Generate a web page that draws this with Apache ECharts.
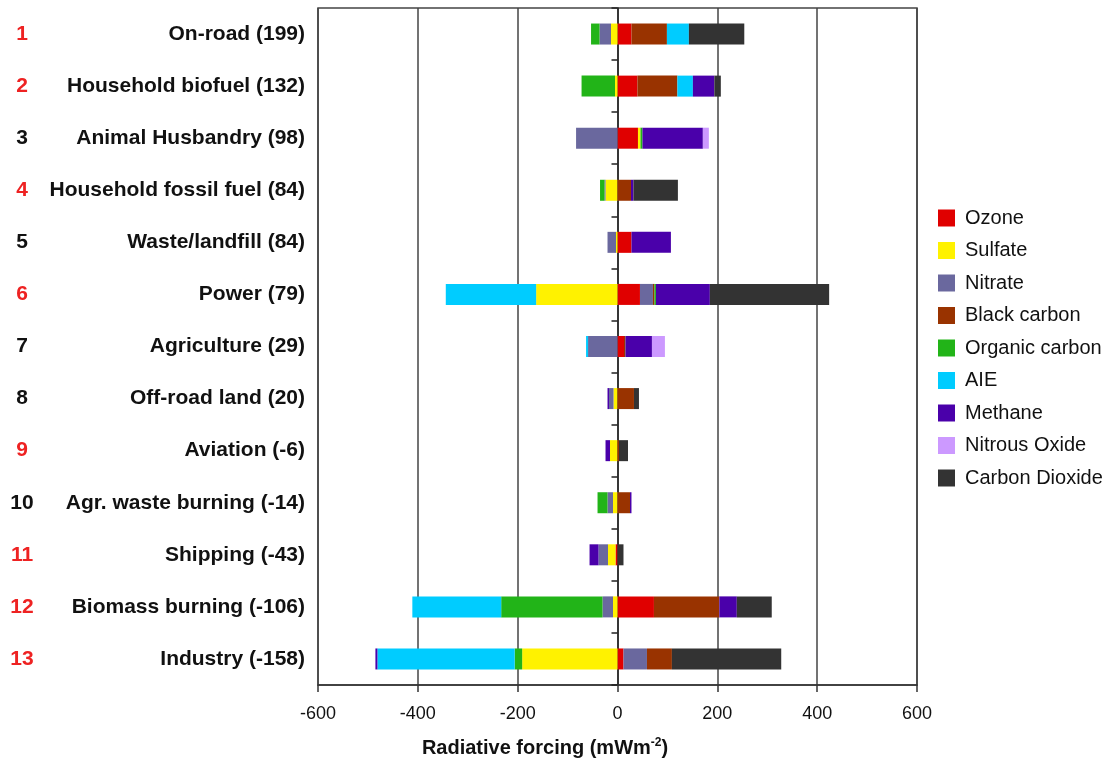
<!DOCTYPE html>
<html>
<head>
<meta charset="utf-8">
<script src="https://cdn.jsdelivr.net/npm/echarts@6/dist/echarts.min.js"></script>
<style>
html,body{margin:0;padding:0;background:#fff;}
#c{width:1113px;height:765px;}
</style>
</head>
<body>
<div id="c"></div>
<script>
// ---- data ----
var sectors = ['On-road','Household biofuel','Animal Husbandry','Household fossil fuel','Waste/landfill','Power','Agriculture','Off-road land','Aviation','Agr. waste burning','Shipping','Biomass burning','Industry'];
var netForcing = [199,132,98,84,84,79,29,20,-6,-14,-43,-106,-158];
var ranks = ['1','2','3','4','5','6','7','8','9','10','11','12','13'];
var rankRed = [true,true,false,true,false,true,false,false,true,false,true,true,true];

var ozone      = [28, 40, 41, 0, 28, 45, 13, 0, 0, 0, -4, 73, 12];
var sulfate    = [-13, -5, 5, -24, -3, -163, 0, -8, -15, -9, -15, -9, -191];
var nitrate    = [-23, 0, -83, -2, -17, 26, -59, -9, 0, -11, -19, -21, 47];
var blackC     = [71, 80, 0, 27, 0, 3, 3, 33, 3, 25, 0, 131, 50];
var organicC   = [-17, -67, 4, -9, 0, 3, 0, 0, 0, -20, 0, -203, -15];
var aie        = [44, 31, 0, 0, 0, -181, -4, 0, 0, 0, 0, -178, -275];
var methane    = [0, 43, 121, 5, 79, 108, 53, -3, -9, 3, -18, 35, -4];
var n2o        = [0, 0, 12, 0, 0, 0, 26, 0, 0, 0, 0, 0, 0];
var co2        = [111, 13, 0, 89, 0, 239, 0, 10, 18, 0, 12, 70, 219];

var xTicks = {min: -600, max: 600, interval: 200};

var seriesDefs = [
  ['Ozone', ozone, '#e00000'],
  ['Sulfate', sulfate, '#fff200'],
  ['Nitrate', nitrate, '#6a689e'],
  ['Black carbon', blackC, '#993300'],
  ['Organic carbon', organicC, '#22b418'],
  ['AIE', aie, '#00ccff'],
  ['Methane', methane, '#4a00aa'],
  ['Nitrous Oxide', n2o, '#cc99ff'],
  ['Carbon Dioxide', co2, '#333333']
];

var categories = sectors.map(function(s, i){ return s + ' (' + netForcing[i] + ')'; });

var chart = echarts.init(document.getElementById('c'), null, {renderer: 'canvas'});
var font = 'Liberation Sans, Arial, Helvetica, sans-serif';

var option = {
  backgroundColor: '#fff',
  animation: false,
  grid: {left: 318, right: 196, top: 8, bottom: 80, show: true, borderColor: '#444', borderWidth: 1.5, backgroundColor: 'transparent'},
  legend: {
    orient: 'vertical', left: 938, top: 208, padding: 0,
    itemWidth: 17, itemHeight: 17, itemGap: 12.5,
    icon: 'rect',
    textStyle: {fontFamily: font, fontSize: 20, color: '#111', lineHeight: 20, padding: [0,0,0,5]},
    data: seriesDefs.map(function(d){ return d[0]; })
  },
  xAxis: {
    type: 'value', min: xTicks.min, max: xTicks.max, interval: xTicks.interval,
    axisLine: {show: true, onZero: false, lineStyle: {color: '#333', width: 1.5}},
    axisTick: {show: true, length: 7, lineStyle: {color: '#333', width: 1.5}},
    splitLine: {show: true, lineStyle: {color: '#444', width: 1.5}},
    axisLabel: {fontFamily: font, fontSize: 18, color: '#111', margin: 20},
    name: '{a|Radiative forcing (mWm}{s|-2}{a|)}',
    nameLocation: 'middle', nameGap: 52,
    nameTextStyle: {
      padding: [0, 145, 0, 0],
      rich: {
        a: {fontFamily: font, fontSize: 20, fontWeight: 'bold', color: '#111', lineHeight: 22},
        s: {fontFamily: font, fontSize: 12, fontWeight: 'bold', color: '#111', verticalAlign: 'top', lineHeight: 22, padding: [0,0,8,0]}
      }
    }
  },
  yAxis: [
    {
      type: 'category', inverse: true, data: categories, position: 'left',
      axisLine: {show: false, onZero: false}, axisTick: {show: false},
      splitLine: {show: false},
      axisLabel: {fontFamily: font, fontSize: 21, fontWeight: 'bold', color: '#111', margin: 13}
    },
    {
      type: 'category', inverse: true, data: categories, position: 'left',
      axisLine: {show: false, onZero: false}, axisTick: {show: false},
      axisLabel: {
        margin: 296, align: 'center',
        formatter: function(v, i){ return (rankRed[i] ? '{r|' : '{k|') + ranks[i] + '}'; },
        rich: {
          r: {fontFamily: font, fontSize: 21, fontWeight: 'bold', color: '#ee2222'},
          k: {fontFamily: font, fontSize: 21, fontWeight: 'bold', color: '#111'}
        }
      }
    },
    {
      type: 'category', inverse: true, data: categories, position: 'left',
      axisLine: {show: true, onZero: true, lineStyle: {color: '#222', width: 1.5}},
      axisTick: {show: true, length: 6, lineStyle: {color: '#222', width: 1.5}},
      axisLabel: {show: false}
    }
  ],
  series: seriesDefs.map(function(d){
    return {
      name: d[0], type: 'bar', stack: 'rf', yAxisIndex: 0,
      barWidth: 21, data: d[1],
      itemStyle: {color: d[2]}
    };
  })
};
chart.setOption(option);
</script>
</body>
</html>
